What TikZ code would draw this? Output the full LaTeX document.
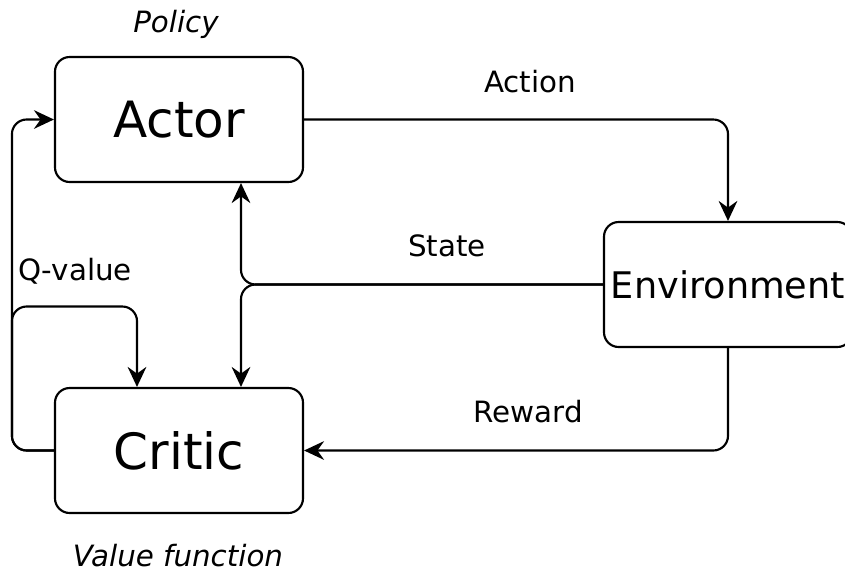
\documentclass[tikz,border=0pt]{standalone}
\usepackage{fontspec}
\setmainfont{DejaVu Sans}
\usetikzlibrary{arrows.meta}
\tikzset{
  block/.style={draw,line width=1.6pt,rounded corners=11pt,minimum width=186pt,
    minimum height=93.75pt,inner sep=0pt},
  flow/.style={line width=1.6pt,rounded corners=11pt,
    -{Stealth[length=15pt,width=14pt,inset=5pt]}},
  lbl/.style={font=\fontsize{22}{26}\selectfont},
  note/.style={font=\fontsize{22}{26}\selectfont\itshape}
}
\begin{document}
\begin{tikzpicture}[x=0.75pt,y=-0.75pt]
    \useasboundingbox (0,0) rectangle (845,576);
    \node[block,font=\fontsize{37.5}{44}\selectfont](actor) at (179,119.5){Actor};
    \node[block,font=\fontsize{37.5}{44}\selectfont](critic) at (179,450.5){Critic};
    \node[block,font=\fontsize{27.5}{32}\selectfont](env) at (728,284.5){Environment};
    \node[note](policy) at (176,24){Policy};
    \node[note](valuefn) at (178,556){Value function};
    \node[lbl](action) at (530,82){Action};
    \node[lbl](state) at (447,246){State};
    \node[lbl](reward) at (528,412){Reward};
    \node[lbl](qvalue) at (75,271){Q-value};
    % action, state, reward
    \draw[flow](actor.east) -| (env.north);
    \draw[flow](env.west) -| ([xshift=46.5pt]actor.south);
    \draw[flow](env.west) -| ([xshift=46.5pt]critic.north);
    \draw[flow](env.south) |- (critic.east);
    % q-value
    \draw[flow](critic.west) -- ++(-42,0) |- (actor.west);
    \draw[flow](critic.west) -- ++(-42,0) -- ++(0,-144)
                             -| ([xshift=-31.5pt]critic.north);
\end{tikzpicture}
\end{document}
